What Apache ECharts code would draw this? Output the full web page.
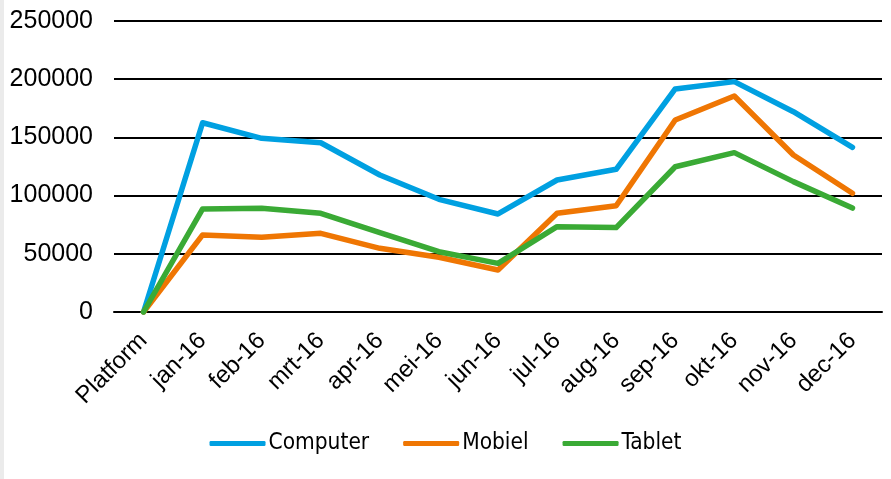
<!DOCTYPE html>
<html>
<head>
<meta charset="utf-8">
<script src="https://cdn.jsdelivr.net/npm/echarts@6/dist/echarts.min.js"></script>
<style>
html,body{margin:0;padding:0;background:#fff;}
#chart{width:891px;height:479px;}
</style>
</head>
<body>
<div id="chart"></div>
<script>
const categories = ['Platform','jan-16','feb-16','mrt-16','apr-16','mei-16','jun-16','jul-16','aug-16','sep-16','okt-16','nov-16','dec-16'];
const computer = [0, 162600, 149200, 145400, 117700, 96800, 84200, 113400, 122600, 191600, 197900, 172100, 141500];
const mobiel   = [0, 66200, 64200, 67600, 54700, 47000, 36100, 84800, 91300, 164900, 185600, 134900, 102000];
const tablet   = [0, 88500, 89100, 84800, 68100, 51800, 41800, 73300, 72500, 124800, 136900, 112000, 89300];
const seriesNames = ['Computer','Mobiel','Tablet'];
const colors = ['#00a0e1','#ef7603','#3aaa35'];

const chart = echarts.init(document.getElementById('chart'), null, {renderer:'canvas'});
const mk = (name, data, color) => ({
  name, type:'line', data, showSymbol:false, symbol:'none',
  lineStyle:{width:5.5, color, cap:'round', join:'round'}, itemStyle:{color},
  animation:false
});
chart.setOption({
  animation:false,
  backgroundColor:'#ffffff',
  graphic:[{type:'rect', shape:{x:0,y:0,width:4,height:479}, style:{fill:'#ebebeb'}, silent:true}],
  grid:{left:114, right:9, top:21, height:291, containLabel:false},
  legend:{
    data:seriesNames.map((n)=>({name:n, icon:'roundRect'})),
    top:427, left:'center',
    itemWidth:56, itemHeight:5, itemGap:34,
    textStyle:{fontFamily:'"DejaVu Sans Condensed", sans-serif', fontSize:22.5, color:'#000', padding:[0,0,0,-2]}
  },
  xAxis:{
    type:'category', data:categories, boundaryGap:true,
    axisLine:{show:true, lineStyle:{color:'#000', width:2}},
    axisTick:{show:false},
    axisLabel:{rotate:45, interval:0, margin:25, fontFamily:'Liberation Sans', fontSize:24, color:'#000'}
  },
  yAxis:{
    type:'value', min:0, max:250000, interval:50000,
    axisLine:{show:false}, axisTick:{show:false},
    splitLine:{show:true, lineStyle:{color:'#000', width:2}},
    axisLabel:{margin:21, fontFamily:'Liberation Sans', fontSize:25, color:'#000', formatter:(v)=>String(v)}
  },
  series:[mk('Computer', computer, colors[0]), mk('Mobiel', mobiel, colors[1]), mk('Tablet', tablet, colors[2])]
});
</script>
</body>
</html>
